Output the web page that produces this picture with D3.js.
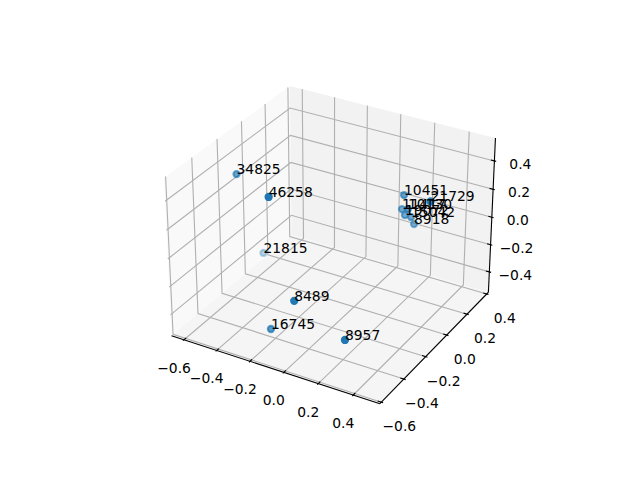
<!DOCTYPE html>
<html><head><meta charset="utf-8"><script src="https://cdn.jsdelivr.net/npm/d3@7"></script>
<style>html,body{margin:0;background:#fff}text{font-family:"DejaVu Sans";font-size:13.89px;fill:#000}</style></head>
<body><svg id="c" width="640" height="480"></svg>
<script>
const labels=['34825','46258','21815','8489','16745','8957','10451','21729','8918','11417','10130','19072','15042'];
const xValues=[-0.573,-0.162,-0.589,0.059,-0.175,0.335,0.199,0.470,0.222,0.178,0.264,0.199,0.229];
const yValues=[-0.189,-0.488,0.041,-0.603,-0.471,-0.587,0.140,-0.060,0.204,0.157,0.073,0.152,0.162];
const zValues=[0.341,0.516,-0.393,-0.031,-0.420,-0.210,0.229,0.408,-0.013,0.111,0.197,0.079,0.068];
const xLimits=[-0.6776,0.5498], yLimits=[-0.6125,0.4174], zLimits=[-0.5523,0.5584];
const xTicks=[-0.6,-0.4,-0.2,0,0.2,0.4], yTicks=[-0.6,-0.4,-0.2,0,0.2,0.4], zTicks=[-0.4,-0.2,0,0.2,0.4];
const elev=30*Math.PI/180, azim=-60*Math.PI/180, dist=10;
const k=1.8294640721620434*25/24/Math.hypot(4,4,3);
const box=[4*k*1.0045,4*k*0.9843,3*k*1.0094];
const sx=d3.scaleLinear().domain(xLimits).range([0,box[0]]);
const sy=d3.scaleLinear().domain(yLimits).range([0,box[1]]);
const sz=d3.scaleLinear().domain(zLimits).range([0,box[2]]);
const px=d3.scaleLinear().domain([-0.095,0.09]).range([143.2-0.2481,512.8-0.2481]);
const py=d3.scaleLinear().domain([-0.095,0.09]).range([427.2-0.0798,57.6-0.0798]);
const w=[Math.cos(elev)*Math.cos(azim),Math.cos(elev)*Math.sin(azim),Math.sin(elev)];
const cross=(a,b)=>[a[1]*b[2]-a[2]*b[1],a[2]*b[0]-a[0]*b[2],a[0]*b[1]-a[1]*b[0]];
const norm=a=>{const n=Math.hypot(...a);return a.map(v=>v/n)};
const dot=(a,b)=>a[0]*b[0]+a[1]*b[1]+a[2]*b[2];
const u=norm(cross([0,0,1],w)), v=cross(w,u);
const rel=(x,y,z)=>[sx(x)-box[0]/2,sy(y)-box[1]/2,sz(z)-box[2]/2];
function proj(x,y,z){const p=rel(x,y,z);const d=dist-dot(w,p);return [px(dot(u,p)/d),py(dot(v,p)/d)];}
const svg=d3.select('#c');
const line=d3.line();
const [x0,x1]=xLimits,[y0,y1]=yLimits,[z0,z1]=zLimits;
[[[x0,y0,z0],[x0,y1,z0],[x0,y1,z1],[x0,y0,z1],'#f9f9f9'],[[x0,y1,z0],[x1,y1,z0],[x1,y1,z1],[x0,y1,z1],'#f2f2f2'],[[x0,y0,z0],[x1,y0,z0],[x1,y1,z0],[x0,y1,z0],'#f5f5f5']].forEach(a=>{
 svg.append('path').attr('d',line(a.slice(0,4).map(p=>proj(...p)))+'Z').attr('fill',a[4]);});
const grid=pts=>svg.append('path').attr('d',line(pts.map(p=>proj(...p)))).attr('fill','none').attr('stroke','#b0b0b0').attr('stroke-width',1.11);
xTicks.forEach(t=>grid([[t,y0,z0],[t,y1,z0],[t,y1,z1]]));
yTicks.forEach(t=>grid([[x1,t,z0],[x0,t,z0],[x0,t,z1]]));
zTicks.forEach(t=>grid([[x0,y0,t],[x0,y1,t],[x1,y1,t]]));
const ax=pts=>svg.append('path').attr('d',line(pts.map(p=>proj(...p)))).attr('fill','none').attr('stroke','#000').attr('stroke-width',1.11);
ax([[x0,y0,z0],[x1,y0,z0]]);ax([[x1,y0,z0],[x1,y1,z0]]);ax([[x1,y1,z0],[x1,y1,z1]]);
const dx=(x1-x0)/12,dy=(y1-y0)/12;
const fmt=t=>(t<0?'\u2212':'')+Math.abs(t).toFixed(1);
const lab=(p,t,ox,oy)=>svg.append('text').attr('x',p[0]+ox).attr('y',p[1]+oy).attr('text-anchor','middle').attr('dominant-baseline','central').text(fmt(t));
xTicks.forEach(t=>{ax([[t,y0-0.1*dy,z0],[t,y0+0.2*dy,z0]]);lab(proj(t,y0,z0),t,-10,28)});
yTicks.forEach(t=>{ax([[x1+0.1*dx,t,z0],[x1-0.2*dx,t,z0]]);lab(proj(x1,t,z0),t,18,24)});
zTicks.forEach(t=>{ax([[x1+0.1*dx,y1,t],[x1-0.2*dx,y1,t]]);lab(proj(x1,y1,t),t,26,3)});
const pts=labels.map((l,i)=>{const p=proj(xValues[i],yValues[i],zValues[i]);return {l,p,d:dot(w,rel(xValues[i],yValues[i],zValues[i]))}});
const alpha=d3.scaleLinear().domain(d3.extent(pts,d=>d.d)).range([0.3,1]);
svg.append('g').selectAll('circle').data(pts.slice().sort((a,b)=>a.d-b.d)).join('circle')
 .attr('cx',d=>d.p[0]).attr('cy',d=>d.p[1]).attr('r',3.1).attr('fill','#1f77b4').attr('stroke','#1f77b4').attr('stroke-width',2.08)
 .attr('fill-opacity',d=>alpha(d.d)).attr('stroke-opacity',d=>alpha(d.d));
svg.append('g').selectAll('text').data(pts).join('text').attr('x',d=>d.p[0]).attr('y',d=>d.p[1]).text(d=>d.l);
</script></body></html>
